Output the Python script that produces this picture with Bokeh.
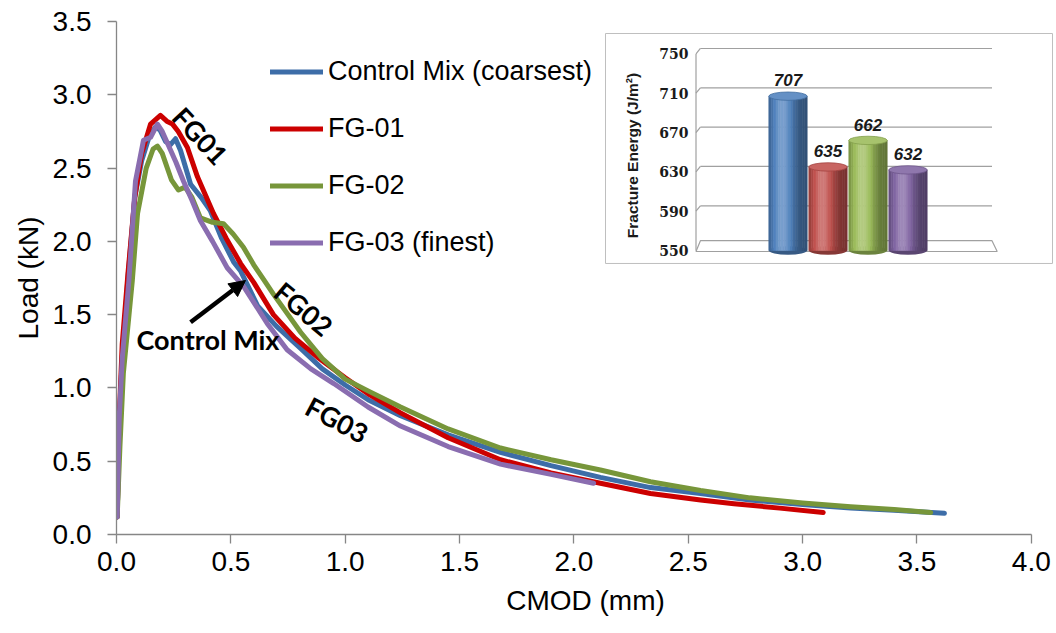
import numpy as np
from bokeh.plotting import figure
from bokeh.models import Range1d, FixedTicker, Legend, LegendItem, Arrow, NormalHead, NumeralTickFormatter
from bokeh.core.properties import value
from bokeh.embed import file_html
from bokeh.resources import INLINE

# ---------------- data ----------------
control_x = [0.003, 0.012, 0.025, 0.05, 0.08, 0.11, 0.14, 0.17, 0.19, 0.215, 0.236, 0.258, 0.28,
             0.324, 0.37, 0.41, 0.46, 0.512, 0.542, 0.617, 0.7, 0.805, 0.9, 1.0, 1.1, 1.242, 1.45,
             1.679, 1.9, 2.116, 2.335, 2.554, 2.77, 3.0, 3.21, 3.4, 3.62]
control_y = [0.12, 0.75, 1.2, 1.75, 2.3, 2.55, 2.70, 2.78, 2.76, 2.68, 2.66, 2.70, 2.62,
             2.39, 2.30, 2.21, 2.02, 1.86, 1.80, 1.56, 1.42, 1.27, 1.13, 1.02, 0.92, 0.81, 0.68,
             0.56, 0.47, 0.39, 0.32, 0.28, 0.235, 0.205, 0.18, 0.165, 0.145]

fg01_x = [0.003, 0.012, 0.025, 0.05, 0.08, 0.11, 0.149, 0.192, 0.22, 0.245, 0.27, 0.31, 0.354,
          0.424, 0.48, 0.542, 0.6, 0.686, 0.78, 0.879, 1.0, 1.1, 1.242, 1.45, 1.679, 1.9, 2.116,
          2.335, 2.554, 2.70, 2.9, 3.09]
fg01_y = [0.12, 0.8, 1.3, 1.78, 2.3, 2.6, 2.80, 2.86, 2.82, 2.80, 2.75, 2.64, 2.44,
          2.19, 2.02, 1.85, 1.72, 1.50, 1.34, 1.21, 1.07, 0.96, 0.83, 0.66, 0.51, 0.42, 0.35,
          0.28, 0.235, 0.21, 0.18, 0.15]

fg02_x = [0.003, 0.015, 0.03, 0.069, 0.092, 0.13, 0.16, 0.179, 0.2, 0.24, 0.271, 0.3, 0.33,
          0.367, 0.42, 0.468, 0.51, 0.555, 0.6, 0.643, 0.686, 0.75, 0.805, 0.9, 1.0, 1.1, 1.242,
          1.45, 1.679, 1.9, 2.116, 2.335, 2.554, 2.77, 3.0, 3.21, 3.4, 3.56]
fg02_y = [0.12, 0.6, 1.1, 1.73, 2.19, 2.5, 2.63, 2.65, 2.6, 2.42, 2.35, 2.37, 2.3,
          2.16, 2.13, 2.12, 2.05, 1.96, 1.84, 1.74, 1.64, 1.5, 1.38, 1.2, 1.06, 0.98, 0.87,
          0.72, 0.59, 0.51, 0.44, 0.36, 0.30, 0.25, 0.215, 0.19, 0.17, 0.15]

fg03_x = [0.003, 0.012, 0.025, 0.054, 0.083, 0.118, 0.149, 0.179, 0.2, 0.223, 0.26, 0.293, 0.33,
          0.367, 0.42, 0.484, 0.557, 0.659, 0.746, 0.85, 0.95, 1.1, 1.242, 1.45, 1.679, 1.9, 2.086]
fg03_y = [0.12, 0.8, 1.2, 1.73, 2.41, 2.69, 2.71, 2.80, 2.75, 2.67, 2.54, 2.41, 2.28,
          2.14, 2.0, 1.82, 1.69, 1.44, 1.26, 1.13, 1.03, 0.87, 0.74, 0.6, 0.48, 0.41, 0.35]

series_names = ["Control Mix (coarsest)", "FG-01", "FG-02", "FG-03 (finest)"]
series_colors = ["#3D6DA8", "#CC0000", "#77963A", "#8A6DB0"]

x_ticks = [0.0, 0.5, 1.0, 1.5, 2.0, 2.5, 3.0, 3.5, 4.0]
y_ticks = [0.0, 0.5, 1.0, 1.5, 2.0, 2.5, 3.0, 3.5]

# inset: fracture energy
inset_categories = ["Control Mix", "FG-01", "FG-02", "FG-03"]
inset_values = [707, 635, 662, 632]
inset_labels = ["707", "635", "662", "632"]
inset_ticks = [550, 590, 630, 670, 710, 750]
inset_tick_labels = ["550", "590", "630", "670", "710", "750"]
inset_rgb = [(79, 129, 189), (192, 80, 77), (155, 187, 89), (128, 100, 162)]

# annotations
notes_text = ["FG01", "FG02", "FG03", "Control Mix"]
notes_x = [0.367, 0.819, 0.965, 0.40]
notes_y = [2.72, 1.54, 0.783, 1.33]
notes_angle = [np.deg2rad(-47), np.deg2rad(-40), np.deg2rad(-28), 0.0]

# ---------------- figure ----------------
p = figure(width=1056, height=633, output_backend="svg", toolbar_location=None,
           x_range=Range1d(0, 4.1014), y_range=Range1d(0, 3.5),
           min_border_left=116, min_border_right=2, min_border_top=21, min_border_bottom=99,
           x_axis_label="CMOD (mm)", y_axis_label="Load (kN)")
p.outline_line_color = None
p.grid.visible = False
p.background_fill_color = "white"

for ax in (p.xaxis[0], p.yaxis[0]):
    ax.axis_line_color = "#868686"
    ax.axis_line_width = 1.3
    ax.major_tick_line_color = "#868686"
    ax.major_tick_line_width = 1.3
    ax.major_tick_out = 9
    ax.major_tick_in = 0
    ax.minor_tick_line_color = None
    ax.major_label_text_font = "Liberation Sans"
    ax.major_label_text_font_size = "28px"
    ax.major_label_text_color = "black"
    ax.axis_label_text_font = "Liberation Sans"
    ax.axis_label_text_font_size = "28px"
    ax.axis_label_text_font_style = "normal"
    ax.axis_label_text_color = "black"
    ax.formatter = NumeralTickFormatter(format="0.0")

p.xaxis.ticker = FixedTicker(ticks=x_ticks)
p.yaxis.ticker = FixedTicker(ticks=y_ticks)
p.xaxis.bounds = (0, 4)
p.xaxis.major_label_standoff = 8
p.xaxis.axis_label_standoff = 11
p.yaxis.major_label_standoff = 16
p.yaxis.axis_label_standoff = 6

renderers = []
for xs, ys, c in zip([control_x, fg01_x, fg02_x, fg03_x], [control_y, fg01_y, fg02_y, fg03_y], series_colors):
    r = p.line(xs, ys, line_color=c, line_width=5, line_join="round", line_cap="round")
    renderers.append(r)

legend = Legend(items=[LegendItem(label=n, renderers=[r]) for n, r in zip(series_names, renderers)],
                location=(154, 263), orientation="vertical",
                background_fill_alpha=0, border_line_color=None,
                padding=0, margin=0, spacing=0,
                glyph_width=53, glyph_height=57, label_height=57, label_standoff=5,
                label_text_font="Liberation Sans", label_text_font_size="27px", label_text_color="black")
p.add_layout(legend)

# curve annotations
p.text(x=notes_x, y=notes_y, text=notes_text, angle=notes_angle,
       text_font=value("Lato"), text_font_style="bold", text_font_size="27px",
       text_align="center", text_baseline="middle", text_color="black")
p.add_layout(Arrow(end=NormalHead(size=16, fill_color="black", line_color="black"),
                   x_start=0.324, y_start=1.448, x_end=0.564, y_end=1.733,
                   line_color="black", line_width=4.5))

# ---------------- inset (own ranges inside the same frame) ----------------
p.extra_x_ranges = {"ix": Range1d(-16.7875, 6.6625)}
p.extra_y_ranges = {"iy": Range1d(261.1, 782.96)}
kw = dict(x_range_name="ix", y_range_name="iy")

p.quad(left=[-4.5625], right=[6.6125], top=[770.75], bottom=[536.8],
       fill_color="white", line_color="#BFBFBF", line_width=1, **kw)

wall_front, wall_back, right_back, right_front, depth = -2.30, -2.19, 5.10, 5.23, 5.5
grid_t = inset_ticks[1:]
p.segment(x0=[wall_front] * len(grid_t), y0=grid_t, x1=[wall_back] * len(grid_t),
          y1=[t + depth for t in grid_t], line_color="#A0A0A0", line_width=1.2, **kw)
p.segment(x0=[wall_back] * len(grid_t), y0=[t + depth for t in grid_t],
          x1=[right_back] * len(grid_t), y1=[t + depth for t in grid_t],
          line_color="#A0A0A0", line_width=1.2, **kw)
p.segment(x0=[wall_front], y0=[inset_ticks[0]], x1=[wall_front], y1=[inset_ticks[-1]],
          line_color="#A0A0A0", line_width=1.2, **kw)
base = inset_ticks[0]
p.patch(x=[wall_front, wall_back, right_back, right_front],
        y=[base - 1, base + 10, base + 10, base - 1],
        fill_color="white", line_color="#A0A0A0", line_width=1.2, **kw)

def shade(rgb, f):
    c = np.array(rgb, float)
    c = c * f if f < 1 else c + (255 - c) * (f - 1)
    c = np.clip(np.round(c), 0, 255).astype(int)
    return "#%02x%02x%02x" % tuple(c)

N = 16
half = 0.48
L, R, T, B, C = [], [], [], [], []
for i, (v, rgb) in enumerate(zip(inset_values, inset_rgb)):
    edges = np.linspace(i - half, i + half, N + 1)
    for k in range(N):
        t = (k + 0.5) / N
        f = 0.62 + 0.62 * np.exp(-((t - 0.36) / 0.3) ** 2)
        L.append(edges[k]); R.append(edges[k + 1]); T.append(v); B.append(base); C.append(shade(rgb, f))

idx = list(range(len(inset_values)))
p.ellipse(x=idx, y=[base] * len(idx), width=2 * half, height=8.5,
          fill_color=[shade(c, 0.7) for c in inset_rgb], line_color=None, **kw)
p.quad(left=L, right=R, top=T, bottom=B, fill_color=C, line_color=C, line_width=0.6, **kw)
p.ellipse(x=idx, y=inset_values, width=2 * half, height=8.5,
          fill_color=[shade(c, 1.12) for c in inset_rgb],
          line_color=[shade(c, 0.85) for c in inset_rgb], line_width=0.8, **kw)

p.text(x=idx, y=[v + 16 for v in inset_values], text=inset_labels,
       text_font=value("Liberation Sans"), text_font_style="bold italic", text_font_size="17px",
       text_align="center", text_baseline="middle", text_color="#1A1A1A", **kw)
p.text(x=[-2.49] * len(inset_ticks), y=inset_ticks, text=inset_tick_labels,
       text_font=value("DejaVu Serif"), text_font_style="bold", text_font_size="14px",
       text_align="right", text_baseline="middle", text_color="#1A1A1A", **kw)
p.text(x=[-3.89], y=[646.6], text=["Fracture Energy (J/m²)"], angle=[np.pi / 2],
       text_font=value("Liberation Sans"), text_font_style="bold", text_font_size="15.5px",
       text_align="center", text_baseline="middle", text_color="#1A1A1A", **kw)

open("out.html", "w").write(file_html(p, INLINE))
